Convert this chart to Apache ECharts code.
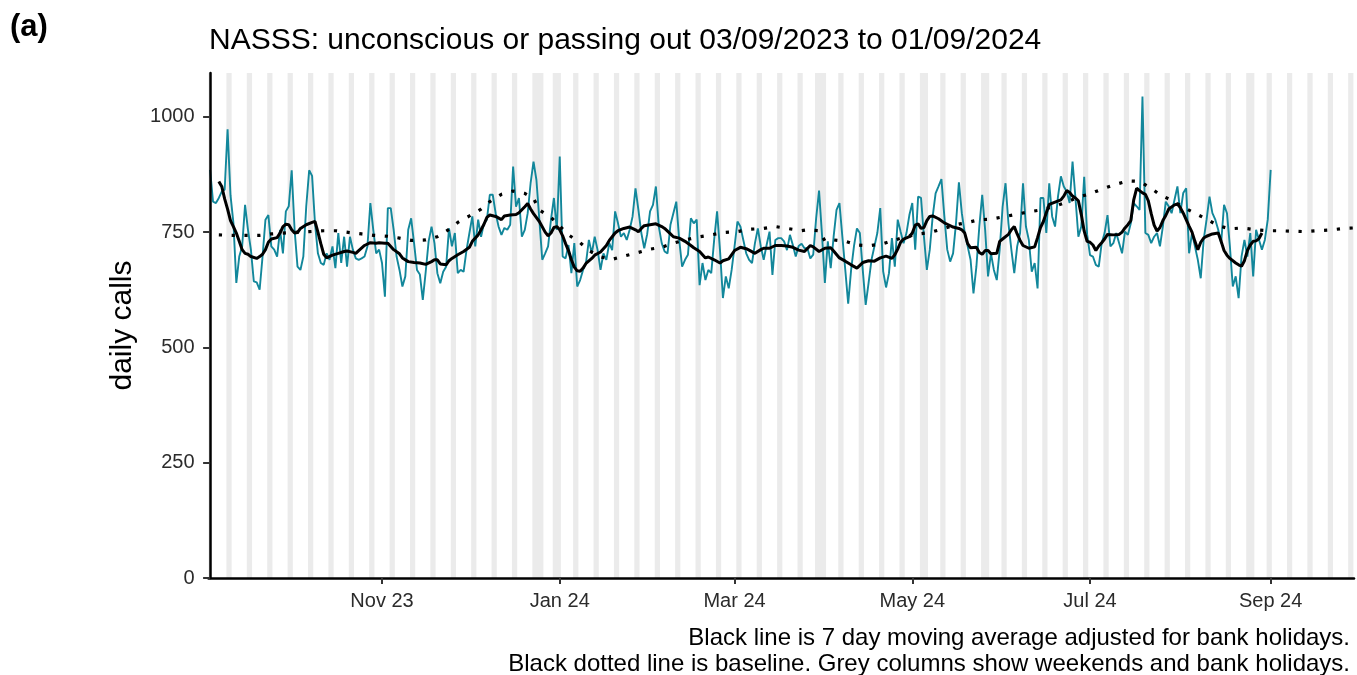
<!DOCTYPE html>
<html><head><meta charset="utf-8">
<script src="https://cdn.jsdelivr.net/npm/echarts@6/dist/echarts.min.js"></script>
<style>html,body{margin:0;padding:0;background:#fff}#c{width:1357px;height:675px}</style>
</head><body><div id="c"></div>
<script>
// ---- data ----
const startDate = '2023-09-03';
const dailyCalls = [
885,816,813,824,838,842,973,830,770,640,
697,719,809,755,712,643,641,625,697,777,
787,719,712,697,755,704,795,806,884,755,
675,668,697,806,884,872,769,704,683,679,
704,690,719,672,748,683,740,675,740,712,
693,690,693,697,719,813,755,704,712,683,
610,802,802,755,697,668,632,654,755,780,
726,668,658,603,664,730,762,726,661,639,
664,675,758,719,748,661,668,664,711,748,
784,719,777,740,769,777,831,831,791,762,
744,759,755,766,892,805,824,740,755,791,
856,903,863,777,690,704,719,777,824,755,
914,697,693,722,661,726,632,646,668,683,
733,704,740,711,668,704,690,726,711,795,
769,740,748,733,755,784,845,798,748,715,
745,795,809,849,762,726,708,704,766,791,
816,733,675,690,701,780,769,777,635,683,
646,668,661,733,795,711,607,654,628,668,
719,773,762,733,704,690,683,726,758,719,
690,722,751,657,733,737,737,730,711,744,
722,697,720,725,715,715,693,701,780,840,
745,640,730,672,740,798,813,740,668,595,
668,720,758,748,668,592,640,690,719,748,
802,665,630,661,737,675,777,751,726,748,
787,813,712,827,824,740,668,712,784,834,
849,865,784,712,686,704,769,858,791,748,
719,690,617,675,762,831,755,654,704,668,
646,712,805,856,769,712,661,719,748,856,
762,733,664,683,628,824,824,748,856,784,
762,827,871,849,838,813,903,824,740,762,
870,745,700,697,679,675,726,748,787,719,
726,748,726,704,751,744,769,813,806,798,
1044,748,744,726,740,748,719,762,816,806,
791,820,849,791,835,845,704,748,719,690,
650,733,777,827,791,777,755,726,809,791,
719,632,654,607,697,733,697,748,654,755,
733,712,733,777,885
];
// 7 day moving average: [day offset from startDate, value]
const movingAverage = [
[3,860],[4,849],[5,822],[6,800],[7,775],[8,762],[9,748],[10,730],[11,712],[12,704],[13,702],[14,697],[16,693],[17,697],[18,702],[19,712],[20,728],[21,735],[23,738],[24,748],[25,762],[26,767],[27,766],[28,755],[29,748],[30,749],[31,758],[33,766],[35,771],[36,773],[37,750],[38,725],[39,702],[40,694],[42,700],[44,704],[46,708],[47,709],[49,706],[50,704],[51,710],[53,721],[55,727],[57,726],[58,727],[60,726],[61,726],[63,712],[65,703],[66,694],[68,686],[70,684],[72,683],[74,680],[76,686],[77,690],[78,690],[79,681],[81,679],[82,688],[83,693],[85,701],[87,708],[89,717],[90,730],[92,744],[93,755],[94,767],[95,782],[96,787],[98,784],[100,777],[101,785],[103,787],[105,788],[106,792],[108,805],[109,812],[110,800],[111,790],[113,773],[115,750],[116,742],[117,748],[118,760],[119,762],[120,755],[121,742],[122,725],[123,710],[124,690],[125,674],[126,666],[127,665],[128,672],[129,682],[131,693],[132,700],[134,707],[136,721],[137,732],[138,740],[139,748],[140,753],[142,758],[144,761],[146,755],[147,751],[148,758],[149,764],[151,766],[153,768],[155,762],[156,758],[158,746],[159,740],[161,737],[163,730],[165,721],[166,716],[168,708],[170,694],[171,696],[173,690],[175,683],[176,688],[178,692],[180,710],[182,717],[184,714],[185,711],[187,704],[189,712],[190,715],[192,715],[194,721],[196,721],[198,720],[200,717],[202,711],[204,708],[206,721],[207,718],[209,708],[211,715],[213,716],[214,709],[216,694],[218,687],[220,679],[222,672],[224,684],[226,688],[228,687],[230,694],[232,698],[234,693],[235,701],[236,713],[237,728],[238,735],[240,740],[241,748],[242,765],[243,768],[244,758],[245,760],[246,775],[247,784],[248,785],[250,779],[252,770],[253,767],[255,761],[257,758],[258,755],[259,748],[260,725],[261,716],[263,717],[264,706],[265,702],[266,710],[267,710],[268,703],[270,704],[271,730],[272,735],[274,745],[275,755],[276,762],[277,746],[278,732],[279,721],[281,715],[283,718],[284,738],[285,760],[286,773],[287,792],[288,810],[290,815],[292,820],[293,828],[294,840],[295,836],[296,828],[297,824],[298,818],[299,788],[300,752],[301,730],[302,728],[303,722],[304,710],[305,720],[306,727],[307,735],[308,745],[310,744],[312,745],[313,750],[314,759],[315,766],[316,775],[317,820],[318,845],[319,840],[320,835],[321,832],[322,818],[323,790],[324,765],[325,752],[326,760],[327,775],[328,786],[329,800],[331,809],[332,811],[333,803],[334,791],[335,777],[336,763],[337,750],[338,730],[339,712],[340,728],[341,737],[342,741],[344,746],[346,748],[347,730],[348,710],[349,700],[350,693],[352,683],[353,679],[354,676],[355,688],[356,710],[357,722],[358,730],[359,731],[360,736],[361,748]
];
// baseline (dotted): [day offset, value]
const baseline = [
[3,744],[8,743],[12,743],[17,743],[21,746],[25,748],[30,750],[34,751],[39,753],[43,753],[48,749],[52,746],[56,743],[61,741],[65,737],[69,732],[74,733],[78,740],[82,756],[85,771],[89,785],[93,800],[96,816],[100,832],[104,839],[108,834],[111,823],[113,798],[117,782],[123,744],[127,727],[130,710],[134,696],[138,691],[142,698],[147,706],[151,713],[155,717],[159,726],[163,733],[168,740],[172,744],[176,749],[181,751],[185,756],[190,758],[194,762],[198,758],[203,753],[205,755],[209,753],[211,731],[214,733],[218,730],[222,722],[226,720],[231,725],[235,733],[239,740],[243,746],[247,749],[252,758],[256,766],[260,771],[264,777],[268,778],[273,784],[277,789],[281,794],[285,798],[290,806],[294,815],[298,826],[302,833],[306,843],[310,852],[315,861],[319,860],[323,845],[326,831],[330,819],[334,804],[338,791],[342,778],[346,764],[350,757],[354,759],[359,755],[363,753],[367,753],[371,752],[376,751],[380,753],[385,755],[389,758],[392.6,759]
];
const bankHolidays = ['2023-12-25','2023-12-26','2024-01-01','2024-03-29','2024-04-01','2024-05-06','2024-05-27','2024-08-26'];
const tickDates = ['2023-11-01','2024-01-01','2024-03-01','2024-05-01','2024-07-01','2024-09-01'];
const tickLabels = ['Nov 23','Jan 24','Mar 24','May 24','Jul 24','Sep 24'];
const yTicks = [0,250,500,750,1000];

// ---- helpers ----
const DAY = 86400000;
function toUTC(s){const p=s.split('-').map(Number);return Date.UTC(p[0],p[1]-1,p[2]);}
const t0 = toUTC(startDate);
function dayIndex(s){return Math.round((toUTC(s)-t0)/DAY);}
const xMin = -0.55, xMax = 392.6;
const tickDays = tickDates.map(dayIndex);
const labelOf = {}; tickDays.forEach((d,i)=>labelOf[d]=tickLabels[i]);
const bhSet = new Set(bankHolidays.map(dayIndex));
// shaded runs (weekends + bank holidays)
const shaded = [];
for (let d=-2; d<=393; d++){
  const dow = new Date(t0 + d*DAY).getUTCDay();
  if (dow===0 || dow===6 || bhSet.has(d)) shaded.push(d);
}
const runs = [];
shaded.forEach(d=>{
  const last = runs[runs.length-1];
  if (last && d===last[1]+1) last[1]=d; else runs.push([d,d]);
});
const areas = runs.map(r=>[Math.max(xMin, r[0]-0.4), Math.min(xMax, r[1]+0.4), 0])
                  .filter(a=>a[1]>a[0]);

const FONT = '"Liberation Sans", Arial, Helvetica, sans-serif';
const chart = echarts.init(document.getElementById('c'));
chart.setOption({
  animation:false,
  backgroundColor:'#fff',
  textStyle:{fontFamily:FONT},
  grid:{left:208.5, right:3, top:73, bottom:97, containLabel:false},
  xAxis:{
    type:'value', min:xMin, max:xMax, z:10,
    splitLine:{show:false},
    axisLine:{show:true, onZero:false, lineStyle:{color:'#000', width:2.5}},
    axisTick:{show:true, customValues:tickDays, length:6, lineStyle:{color:'#333', width:2}},
    axisLabel:{customValues:tickDays, formatter:v=>labelOf[Math.round(v)]||'', fontSize:20, color:'#2b2b2b', margin:13, fontFamily:FONT}
  },
  yAxis:{
    type:'value', min:0, max:1095, z:10,
    splitLine:{show:false},
    axisLine:{show:true, lineStyle:{color:'#000', width:2.5}},
    axisTick:{show:true, customValues:yTicks, length:7, lineStyle:{color:'#333', width:2}},
    axisLabel:{customValues:yTicks, formatter:v=>String(v), fontSize:20, color:'#2b2b2b', margin:14, fontFamily:FONT},
    name:'daily calls', nameLocation:'middle', nameGap:71,
    nameTextStyle:{fontSize:30, color:'#000', fontFamily:FONT}
  },
  series:[
    {
      type:'custom', name:'shade', silent:true, z:1, clip:true,
      encode:{x:[0,1], y:2},
      data:areas,
      renderItem:(params, api)=>{
        const s = api.coord([api.value(0), 0]);
        const e = api.coord([api.value(1), 0]);
        const cs = params.coordSys;
        return {type:'rect', shape:{x:s[0], y:cs.y, width:e[0]-s[0], height:cs.height}, style:{fill:'#EBEBEB'}};
      }
    },
    {
      type:'line', name:'daily', z:3, showSymbol:false, silent:true,
      data:dailyCalls.map((v,i)=>[i,v]),
      lineStyle:{color:'#12879B', width:1.9}
    },
    {
      type:'line', name:'ma', z:4, showSymbol:false, silent:true,
      data:movingAverage,
      lineStyle:{color:'#000', width:3}
    },
    {
      type:'line', name:'baseline', z:5, showSymbol:false, silent:true,
      data:baseline,
      lineStyle:{color:'#000', width:3.2, type:[3.2,9.6], cap:'butt'}
    }
  ],
  graphic:[
    {type:'text', x:10, y:27, style:{text:'(a)', font:'bold 31px '+FONT, fill:'#000', align:'left', verticalAlign:'middle'}},
    {type:'text', x:209, y:41, style:{text:'NASSS: unconscious or passing out 03/09/2023 to 01/09/2024', font:'30px '+FONT, fill:'#000', align:'left', verticalAlign:'middle'}},
    {type:'text', x:1350, y:638, style:{text:'Black line is 7 day moving average adjusted for bank holidays.', font:'24px '+FONT, fill:'#000', align:'right', verticalAlign:'middle'}},
    {type:'text', x:1350, y:664, style:{text:'Black dotted line is baseline. Grey columns show weekends and bank holidays.', font:'24px '+FONT, fill:'#000', align:'right', verticalAlign:'middle'}}
  ]
});
</script>
</body></html>
